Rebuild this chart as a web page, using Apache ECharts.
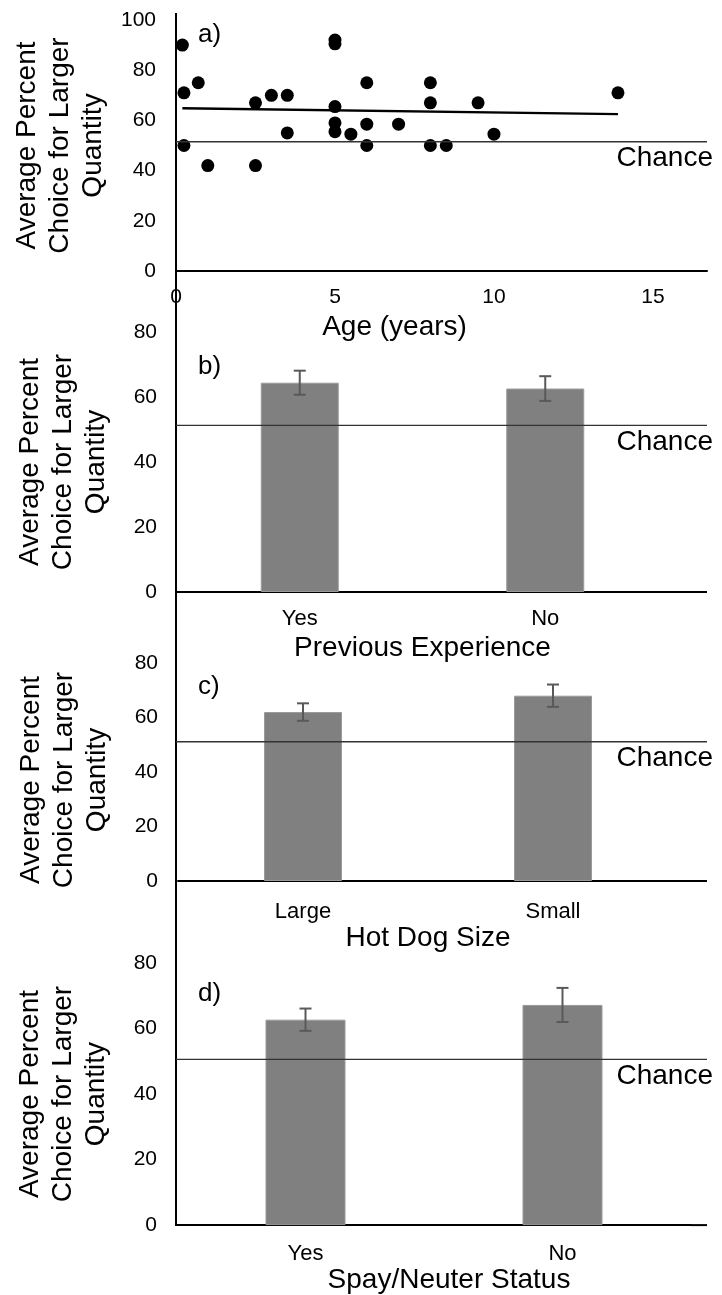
<!DOCTYPE html>
<html>
<head>
<meta charset="utf-8">
<script src="https://cdn.jsdelivr.net/npm/echarts@6/dist/echarts.min.js"></script>
<style>
  html, body { margin: 0; padding: 0; background: #fff; }
  #chart { width: 722px; height: 1295px; }
</style>
</head>
<body>
<div id="chart"></div>
<script>
// a) age vs. average choice for larger quantity
const agePoints = [
  [0.2, 90], [0.25, 71], [0.7, 75], [0.25, 50], [1, 42], [2.5, 67], [2.5, 42],
  [3, 70], [3.5, 70], [3.5, 55], [5, 92], [5, 90.5], [5, 65.5], [5, 59], [5, 55.5],
  [5.5, 54.5], [6, 75], [6, 58.5], [6, 50], [7, 58.5], [8, 75], [8, 67], [8, 50],
  [8.5, 50], [9.5, 67], [10, 54.5], [13.9, 71]
];
const ageTrend = [[0.2, 64.8], [13.9, 62.5]];
const ageTicks = [0, 5, 10, 15];

// b) previous experience
const expCategories = ['Yes', 'No'];
const expMeans = [64.4, 62.6];
const expErrors = [3.7, 3.8];

// c) hot dog size
const sizeCategories = ['Large', 'Small'];
const sizeMeans = [62.0, 68.0];
const sizeErrors = [3.2, 4.1];

// d) spay/neuter status
const spayCategories = ['Yes', 'No'];
const spayMeans = [62.7, 67.2];
const spayErrors = [3.4, 5.2];

const chanceLevels = [51.5, 51.3, 51.1, 50.6];
const panelLabels = ['a)', 'b)', 'c)', 'd)'];
const xNames = ['Age (years)', 'Previous Experience', 'Hot Dog Size', 'Spay/Neuter Status'];
const yName = 'Average Percent\nChoice for Larger\nQuantity';

const font = "'Liberation Sans', Arial, sans-serif";
const chart = echarts.init(document.getElementById('chart'), null, { renderer: 'canvas' });

const grids = [
  { left: 176, top: 20, width: 531, height: 251 },
  { left: 177, top: 332, width: 491, height: 260 },
  { left: 178, top: 663, width: 500, height: 218 },
  { left: 177, top: 963, width: 514, height: 266 }
];
// y title of panel c sits a little lower in the original
const yNamePads = [[0, 0, 0, 0], [0, 0, 0, 0], [0, 16, 0, 0], [0, 0, 0, 0]];

const barPanels = [
  { cats: expCategories, means: expMeans, errs: expErrors, barWidth: 78, labelMargin: 16, nameGap: 42, namePad: [0, 0, 0, 0] },
  { cats: sizeCategories, means: sizeMeans, errs: sizeErrors, barWidth: 78, labelMargin: 20, nameGap: 38, namePad: [0, 0, 0, 0] },
  { cats: spayCategories, means: spayMeans, errs: spayErrors, barWidth: 80, labelMargin: 18, nameGap: 37, namePad: [0, 0, 0, 30] }
];

function yAxisFor(i, max) {
  return {
    type: 'value', gridIndex: i, min: 0, max: max, interval: 20,
    axisLine: { show: false }, axisTick: { show: false }, splitLine: { show: false },
    axisLabel: { color: '#000', fontSize: 21, margin: 20, fontFamily: font },
    name: yName, nameLocation: 'middle', nameRotate: 90, nameGap: 64,
    nameTextStyle: { fontSize: 28, lineHeight: 33, color: '#000', fontFamily: font, align: 'center', padding: yNamePads[i] }
  };
}

const xAxes = [{
  type: 'value', gridIndex: 0, min: 0, max: 16.7, interval: 5,
  axisLine: { show: true, onZero: false, lineStyle: { color: '#000', width: 2 } },
  axisTick: { show: false }, splitLine: { show: false },
  axisLabel: {
    color: '#000', fontSize: 21, margin: 16, fontFamily: font,
    formatter: v => ageTicks.includes(v) ? String(v) : ''
  },
  name: xNames[0], nameLocation: 'middle', nameGap: 42,
  nameTextStyle: { fontSize: 28, color: '#000', fontFamily: font, padding: [0, 94, 0, 0] }
}];
const yAxes = [yAxisFor(0, 100)];

const series = [
  {
    type: 'scatter', xAxisIndex: 0, yAxisIndex: 0, data: agePoints,
    symbolSize: 13, itemStyle: { color: '#000', opacity: 1 }, silent: true
  },
  {
    type: 'line', xAxisIndex: 0, yAxisIndex: 0, data: ageTrend,
    symbol: 'none', lineStyle: { color: '#000', width: 2.5 }, silent: true
  }
];

barPanels.forEach((p, k) => {
  const i = k + 1;
  xAxes.push({
    type: 'category', gridIndex: i, data: p.cats,
    axisLine: { show: true, lineStyle: { color: '#000', width: 2 } },
    axisTick: { show: false },
    axisLabel: { color: '#000', fontSize: 22, margin: p.labelMargin, fontFamily: font },
    name: xNames[i], nameLocation: 'middle', nameGap: p.nameGap,
    nameTextStyle: { fontSize: 28, color: '#000', fontFamily: font, padding: p.namePad }
  });
  yAxes.push(yAxisFor(i, 80));
  series.push({
    type: 'bar', xAxisIndex: i, yAxisIndex: i, data: p.means, barWidth: p.barWidth,
    itemStyle: { color: '#808080', borderColor: '#9a9a9a', borderWidth: 1 }, silent: true
  });
  series.push({
    type: 'custom', xAxisIndex: i, yAxisIndex: i, z: 5, silent: true,
    data: p.means.map((m, j) => [j, m, p.errs[j]]),
    encode: { x: 0, y: 1 },
    renderItem: function (params, api) {
      const x = api.value(0), m = api.value(1), e = api.value(2);
      const top = api.coord([x, m + e]);
      const bot = api.coord([x, m - e]);
      const hw = 6;
      const style = { stroke: '#595959', lineWidth: 2 };
      return {
        type: 'group',
        children: [
          { type: 'line', shape: { x1: top[0], y1: top[1], x2: bot[0], y2: bot[1] }, style: style },
          { type: 'line', shape: { x1: top[0] - hw, y1: top[1], x2: top[0] + hw, y2: top[1] }, style: style },
          { type: 'line', shape: { x1: bot[0] - hw, y1: bot[1], x2: bot[0] + hw, y2: bot[1] }, style: style }
        ]
      };
    }
  });
});

const titles = panelLabels.map((t, i) => ({
  text: t, left: 193, top: [17, 349, 669, 976][i],
  textStyle: { fontSize: 26, fontWeight: 'normal', color: '#000', fontFamily: font }
}));

chart.setOption({
  animation: false,
  backgroundColor: '#fff',
  title: titles,
  grid: grids,
  xAxis: xAxes,
  yAxis: yAxes,
  series: series
});

// reference lines and the shared vertical axis, placed through the axes' scales
const lineEnd = 707;
const axisX = chart.convertToPixel({ xAxisIndex: 0 }, 0);
const graphics = [];
graphics.push({
  type: 'line', silent: true,
  shape: {
    x1: axisX, y1: chart.convertToPixel({ yAxisIndex: 0 }, 102.8),
    x2: axisX, y2: chart.convertToPixel({ yAxisIndex: 3 }, 0) + 1
  },
  style: { stroke: '#000', lineWidth: 2 }
});
chanceLevels.forEach((c, i) => {
  const y = chart.convertToPixel({ yAxisIndex: i }, c);
  graphics.push({
    type: 'line', silent: true, z: 4,
    shape: { x1: axisX, y1: y, x2: lineEnd, y2: y },
    style: { stroke: '#333', lineWidth: 1.3 }
  });
  graphics.push({
    type: 'text', silent: true,
    x: 713, y: y + 17,
    style: { text: 'Chance', fontSize: 28, fontFamily: font, fill: '#000', align: 'right', verticalAlign: 'middle' }
  });
  if (i > 0) {
    const y0 = chart.convertToPixel({ yAxisIndex: i }, 0);
    const gx = grids[i].left + grids[i].width;
    graphics.push({
      type: 'line', silent: true,
      shape: { x1: gx, y1: y0, x2: lineEnd, y2: y0 },
      style: { stroke: '#000', lineWidth: 2 }
    });
  }
});
chart.setOption({ graphic: graphics });
</script>
</body>
</html>
